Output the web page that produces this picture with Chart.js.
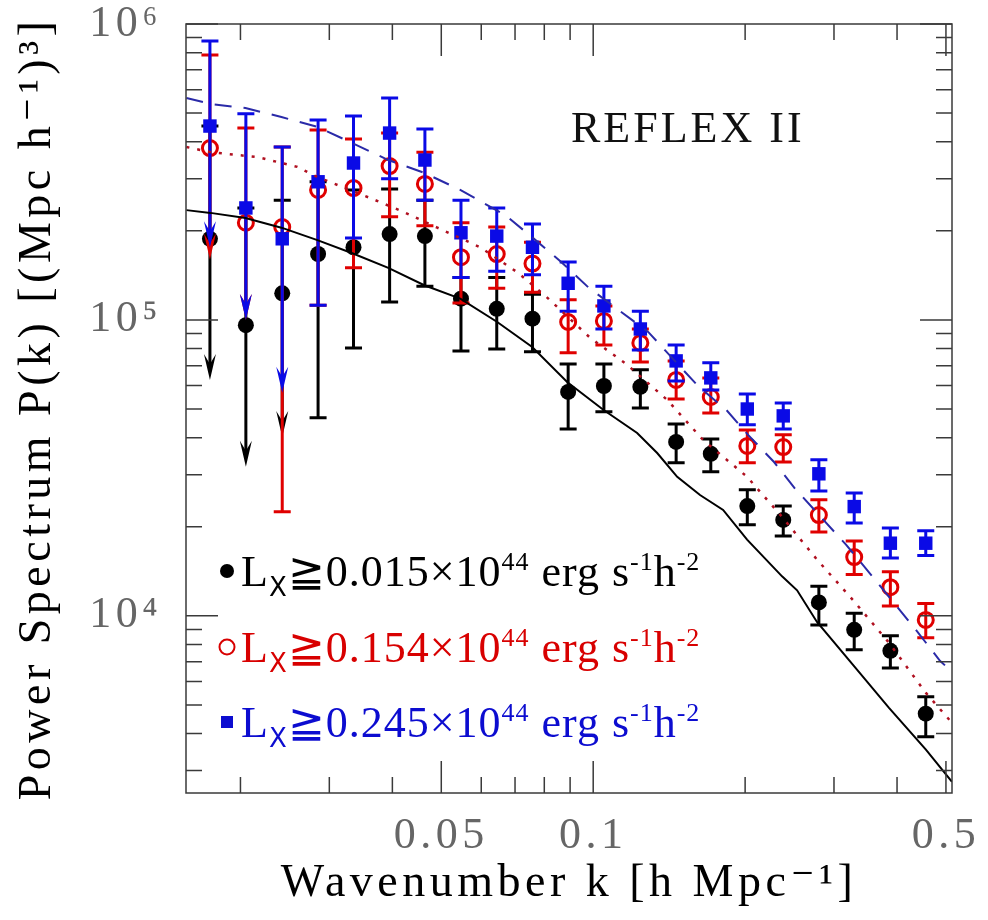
<!DOCTYPE html>
<html>
<head>
<meta charset="utf-8">
<script src="https://cdn.jsdelivr.net/npm/chart.js@4.4.1/dist/chart.umd.min.js"></script>
<style>
  html, body { margin: 0; padding: 0; background: #fff; }
  canvas { display: block; }
</style>
</head>
<body>
<canvas id="pkChart" width="988" height="920"></canvas>
<script>
// k bins (h/Mpc) shared by the three luminosity-cut samples
const kBins = [0.0174, 0.0205, 0.0242, 0.0285, 0.0335, 0.0395, 0.0464, 0.0547, 0.0644, 0.0758, 0.0892,
               0.105, 0.124, 0.146, 0.171, 0.202, 0.238, 0.280, 0.329, 0.388, 0.456];

// Lx >= 0.015e44 (black dots)
const p015   = [1.88e5, 9.6e4, 1.23e5, 1.67e5, 1.76e5, 1.95e5, 1.92e5, 1.18e5, 1.09e5, 1.01e5, 5.71e4,
                5.98e4, 5.94e4, 3.87e4, 3.53e4, 2.35e4, 2.11e4, 1.11e4, 8.97e3, 7.62e3, 4.67e3];
const p015Hi = [4.52e5, 2.39e5, 2.54e5, 2.93e5, 2.75e5, 2.77e5, 2.54e5, 1.39e5, 1.39e5, 1.22e5, 7.1e4,
                7.1e4, 6.78e4, 4.45e4, 3.96e4, 2.67e4, 2.35e4, 1.26e4, 1.02e4, 8.56e3, 5.33e3];
const p015Lo = [6.27e4, 3.19e4, 4.02e4, 4.67e4, 8.04e4, 1.15e5, 1.3e5, 7.86e4, 7.98e4, 7.8e4, 4.28e4,
                4.89e4, 5.04e4, 3.29e4, 3.07e4, 2.03e4, 1.86e4, 9.32e3, 7.68e3, 6.67e3, 3.9e3];
const lim015 = [1, 1, 1, 0, 0, 0, 0, 0, 0, 0, 0, 0, 0, 0, 0, 0, 0, 0, 0, 0, 0];

// Lx >= 0.154e44 (red open circles)
const p154   = [3.81e5, 2.13e5, 2.06e5, 2.75e5, 2.79e5, 3.31e5, 2.88e5, 1.63e5, 1.67e5, 1.55e5, 9.84e4,
                9.92e4, 8.36e4, 6.27e4, 5.49e4, 3.75e4, 3.72e4, 2.19e4, 1.58e4, 1.25e4, 9.69e3];
const p154Hi = [7.86e5, 4.45e5, 3.84e5, 4.38e5, 4.09e5, 4.28e5, 3.69e5, 2.13e5, 2.06e5, 1.83e5, 1.17e5,
                1.115e5, 9.32e4, 7.27e4, 6.37e4, 4.25e4, 4.09e4, 2.47e4, 1.79e4, 1.41e4, 1.1e4];
const p154Lo = [1.6e5, 1.0e5, 2.25e4, 1.12e5, 1.5e5, 2.23e5, 2.08e5, 1.14e5, 1.28e5, 1.24e5, 7.74e4,
                8.23e4, 7.21e4, 5.41e4, 4.85e4, 3.29e4, 3.31e4, 1.92e4, 1.38e4, 1.08e4, 8.43e3];
const lim154 = [1, 1, 0, 0, 0, 0, 0, 0, 0, 0, 0, 0, 0, 0, 0, 0, 0, 0, 0, 0, 0];

// Lx >= 0.245e44 (blue squares)
const p245   = [4.52e5, 2.39e5, 1.88e5, 2.93e5, 3.39e5, 4.28e5, 3.47e5, 1.97e5, 1.92e5, 1.76e5, 1.33e5,
                1.115e5, 9.32e4, 7.27e4, 6.37e4, 5.0e4, 4.74e4, 3.02e4, 2.34e4, 1.76e4, 1.76e4];
const p245Hi = [8.76e5, 4.97e5, 3.84e5, 4.74e5, 4.89e5, 5.62e5, 4.42e5, 2.54e5, 2.39e5, 2.11e5, 1.57e5,
                1.3e5, 1.07e5, 8.23e4, 7.16e4, 5.62e4, 5.24e4, 3.37e4, 2.6e4, 1.98e4, 1.94e4];
const p245Lo = [1.76e5, 1.0e5, 5.67e4, 1.12e5, 1.89e5, 3.0e5, 2.54e5, 1.39e5, 1.46e5, 1.42e5, 1.07e5,
                9.32e4, 7.92e4, 6.22e4, 5.8e4, 4.42e4, 4.28e4, 2.64e4, 2.06e4, 1.57e4, 1.6e4];
const lim245 = [1, 1, 1, 0, 0, 0, 0, 0, 0, 0, 0, 0, 0, 0, 0, 0, 0, 0, 0, 0, 0];

// model spectra
const kModel015 = [0.01563, 0.01744, 0.02046, 0.02411, 0.02841, 0.03332, 0.03926, 0.04627, 0.05452, 0.06454,
                   0.0757, 0.08879, 0.1047, 0.1222, 0.1339, 0.1467, 0.1628, 0.1809, 0.2018, 0.2367, 0.2535,
                   0.2776, 0.3272, 0.3856, 0.4563, 0.514];
const pModel015 = [2.35e5, 2.3e5, 2.21e5, 2.05e5, 1.86e5, 1.68e5, 1.5e5, 1.31e5, 1.18e5, 9.84e4,
                   8.1e4, 6.17e4, 4.97e4, 4.15e4, 3.55e4, 2.95e4, 2.56e4, 2.28e4, 1.81e4, 1.36e4, 1.22e4,
                   9.54e3, 6.83e3, 4.89e3, 3.53e3, 2.75e3];
const kModel154 = [0.01563, 0.01744, 0.02162, 0.02593, 0.02841, 0.03332, 0.03617, 0.04204, 0.0491, 0.05973,
                   0.07071, 0.08106, 0.09863, 0.1168, 0.1401, 0.1651, 0.2018, 0.2367, 0.2776, 0.3272,
                   0.3856, 0.4563, 0.514];
const pModel154 = [3.84e5, 3.69e5, 3.55e5, 3.29e5, 3.04e5, 2.73e5, 2.58e5, 2.32e5, 2.05e5, 1.76e5,
                   1.45e5, 1.19e5, 8.7e4, 7.05e4, 5.37e4, 3.93e4, 2.95e4, 2.16e4, 1.55e4, 1.13e4,
                   8.11e3, 5.49e3, 4.35e3];
const kModel245 = [0.01563, 0.01744, 0.02046, 0.02411, 0.02841, 0.03332, 0.03926, 0.04627, 0.05452, 0.06694,
                   0.07605, 0.08641, 0.09774, 0.1115, 0.1285, 0.1427, 0.1606, 0.1842, 0.2027, 0.2282,
                   0.2512, 0.3169, 0.3536, 0.436, 0.4865, 0.514];
const pModel245 = [5.62e5, 5.37e5, 5.2e5, 4.85e5, 4.49e5, 3.96e5, 3.47e5, 3.14e5, 2.75e5, 2.26e5,
                   1.89e5, 1.57e5, 1.29e5, 1.09e5, 9.11e4, 7.5e4, 6.03e4, 4.93e4, 4.09e4, 3.31e4,
                   2.69e4, 1.74e4, 1.39e4, 8.97e3, 7.05e3, 6.47e3];

// axes
const xMajor = [0.05, 0.1, 0.5];
const xMinor = [0.02, 0.03, 0.04, 0.06, 0.07, 0.08, 0.09, 0.2, 0.3, 0.4];
const yMajor = [1e4, 1e5, 1e6];
const yMinor = [3e3, 4e3, 5e3, 6e3, 7e3, 8e3, 9e3, 2e4, 3e4, 4e4, 5e4, 6e4, 7e4, 8e4, 9e4,
                2e5, 3e5, 4e5, 5e5, 6e5, 7e5, 8e5, 9e5];

const legendLabels = [
  { color: '#000000', cut: '0.015' },
  { color: '#d80000', cut: '0.154' },
  { color: '#0c0cd0', cut: '0.245' }
];

const SERIF = '"Liberation Serif", "DejaVu Serif", serif';
const BLACK = '#000000', RED = '#e00000', BLUE = '#0a0ae6';
const SUP = { 4: '\u2074', 5: '\u2075', 6: '\u2076' };

const toXY = (xs, ys) => xs.map((k, i) => ({ x: k, y: ys[i] }));

function drawArrow(ctx, px, tip) {
  ctx.beginPath();
  ctx.moveTo(px, tip);
  ctx.lineTo(px - 6, tip - 26);
  ctx.lineTo(px, tip - 16);
  ctx.lineTo(px + 6, tip - 26);
  ctx.closePath();
  ctx.fill();
}

const errorBars = {
  id: 'errorBars',
  beforeDatasetDraw(chart, args) {
    const ds = chart.data.datasets[args.index];
    if (!ds.errHi) return;
    const { ctx, chartArea: a, scales: { x, y } } = chart;
    ctx.save();
    ctx.beginPath();
    ctx.rect(a.left, a.top, a.right - a.left, a.bottom - a.top);
    ctx.clip();
    ctx.strokeStyle = ds.borderColor;
    ctx.fillStyle = ds.borderColor;
    ctx.lineWidth = 3;
    ds.data.forEach((p, i) => {
      const px = x.getPixelForValue(p.x);
      const hi = y.getPixelForValue(ds.errHi[i]);
      const lo = y.getPixelForValue(ds.errLo[i]);
      ctx.beginPath();
      ctx.moveTo(px, hi);
      ctx.lineTo(px, ds.limit[i] ? lo - 15 : lo);
      ctx.moveTo(px - 8.5, hi); ctx.lineTo(px + 8.5, hi);
      if (!ds.limit[i]) { ctx.moveTo(px - 8.5, lo); ctx.lineTo(px + 8.5, lo); }
      ctx.stroke();
      if (ds.limit[i]) drawArrow(ctx, px, lo);
    });
    ctx.restore();
  }
};

const frameTicks = {
  id: 'frameTicks',
  beforeLayout(chart) { chart.ctx.letterSpacing = '4.5px'; },
  beforeDraw(chart) { chart.ctx.letterSpacing = '4.5px'; },
  afterDraw(chart) {
    const { ctx, chartArea: a, scales: { x, y } } = chart;
    ctx.save();
    ctx.strokeStyle = '#3a3a3a';
    ctx.lineWidth = 1.5;
    ctx.strokeRect(a.left, a.top, a.right - a.left, a.bottom - a.top);
    ctx.beginPath();
    const xt = (v, len) => {
      const px = x.getPixelForValue(v);
      ctx.moveTo(px, a.bottom); ctx.lineTo(px, a.bottom - len);
      ctx.moveTo(px, a.top); ctx.lineTo(px, a.top + len);
    };
    const yt = (v, len) => {
      const py = y.getPixelForValue(v);
      ctx.moveTo(a.left, py); ctx.lineTo(a.left + len, py);
      ctx.moveTo(a.right, py); ctx.lineTo(a.right - len, py);
    };
    xMajor.forEach(v => xt(v, 32));
    xMinor.forEach(v => xt(v, 16));
    yMajor.forEach(v => yt(v, 32));
    yMinor.forEach(v => yt(v, 16));
    ctx.stroke();
    ctx.restore();
  }
};

function drawRuns(ctx, runs, x, y, size) {
  runs.forEach(r => {
    const small = r.sub || r.sup;
    ctx.font = `${small ? Math.round(size * 0.6) : size}px ${r.sans ? '"DejaVu Sans", sans-serif' : SERIF}`;
    const dy = r.sub ? size * 0.22 : r.sup ? -size * 0.36 : 0;
    ctx.fillText(r.t, x, y + dy);
    x += ctx.measureText(r.t).width;
  });
}

const annotations = {
  id: 'annotations',
  afterDraw(chart) {
    const { ctx, chartArea: a } = chart;
    ctx.save();
    ctx.textAlign = 'left';
    ctx.textBaseline = 'alphabetic';
    // sample name
    ctx.letterSpacing = '3px';
    ctx.fillStyle = '#111';
    ctx.font = `44px ${SERIF}`;
    ctx.fillText('REFLEX II', a.left + 385, a.top + 118);
    // legend
    ctx.letterSpacing = '1px';
    const rows = [547, 623, 698];
    legendLabels.forEach((l, i) => {
      const cy = a.top + rows[i];
      const mx = a.left + 41;
      ctx.fillStyle = l.color;
      ctx.strokeStyle = l.color;
      if (i === 0) {
        ctx.beginPath(); ctx.arc(mx, cy, 7, 0, Math.PI * 2); ctx.fill();
      } else if (i === 1) {
        ctx.lineWidth = 2; ctx.beginPath(); ctx.arc(mx, cy, 7.5, 0, Math.PI * 2); ctx.stroke();
      } else {
        ctx.fillRect(mx - 6, cy - 6, 12, 12);
      }
      drawRuns(ctx, [
        { t: 'L' }, { t: 'X', sub: true, sans: true }, { t: '\u2267' + l.cut + '\u00d710' },
        { t: '44', sup: true }, { t: ' erg s' }, { t: '-1', sup: true }, { t: 'h' }, { t: '-2', sup: true }
      ], a.left + 55, cy + 15, 44);
    });
    ctx.restore();
  }
};

new Chart(document.getElementById('pkChart'), {
  type: 'scatter',
  data: {
    datasets: [
      { label: 'model 0.245', data: toXY(kModel245, pModel245), showLine: true, pointRadius: 0,
        borderColor: '#2a2aa8', borderWidth: 2, borderDash: [17, 12] },
      { label: 'model 0.154', data: toXY(kModel154, pModel154), showLine: true, pointRadius: 0,
        borderColor: '#b01020', borderWidth: 2.5, borderDash: [3, 8] },
      { label: 'model 0.015', data: toXY(kModel015, pModel015), showLine: true, pointRadius: 0,
        borderColor: BLACK, borderWidth: 2 },
      { label: 'Lx >= 0.245', data: toXY(kBins, p245), errHi: p245Hi, errLo: p245Lo, limit: lim245,
        pointStyle: 'rect', pointRadius: 9.5, backgroundColor: BLUE, borderColor: BLUE, borderWidth: 0 },
      { label: 'Lx >= 0.154', data: toXY(kBins, p154), errHi: p154Hi, errLo: p154Lo, limit: lim154,
        pointStyle: 'circle', pointRadius: 7.5, backgroundColor: 'rgba(0,0,0,0)', borderColor: RED, borderWidth: 3 },
      { label: 'Lx >= 0.015', data: toXY(kBins, p015), errHi: p015Hi, errLo: p015Lo, limit: lim015,
        pointStyle: 'circle', pointRadius: 8, backgroundColor: BLACK, borderColor: BLACK, borderWidth: 0 }
    ]
  },
  options: {
    responsive: false,
    animation: false,
    events: [],
    layout: { padding: { top: 24, right: 36, bottom: 0, left: 0 } },
    plugins: { legend: { display: false }, tooltip: { enabled: false } },
    scales: {
      x: {
        type: 'logarithmic', min: 0.0156, max: 0.514,
        grid: { display: false, drawTicks: false }, border: { display: false },
        afterBuildTicks: s => { s.ticks = xMajor.map(v => ({ value: v })); },
        afterFit: s => { s.height = 127; s.paddingLeft = 0; s.paddingRight = 0; },
        ticks: { color: '#666', padding: 21, maxRotation: 0, autoSkip: false,
                 font: { family: SERIF, size: 44, lineHeight: 1 }, callback: v => String(v) },
        title: { display: true, text: 'Wavenumber k [h Mpc\u207b\u00b9]', color: '#000',
                 font: { family: SERIF, size: 46, lineHeight: 1.2 }, padding: { top: 0, bottom: 8 } }
      },
      y: {
        type: 'logarithmic', min: 2520, max: 1e6,
        grid: { display: false, drawTicks: false }, border: { display: false },
        afterBuildTicks: s => { s.ticks = yMajor.map(v => ({ value: v })); },
        afterFit: s => { s.width = 186; s.paddingTop = 0; s.paddingBottom = 0; },
        ticks: { color: '#666', padding: 24,
                 font: { family: SERIF, size: 44, lineHeight: 1 },
                 callback: v => '10' + SUP[Math.round(Math.log10(v))] },
        title: { display: true, text: 'Power Spectrum P(k) [(Mpc h\u207b\u00b9)\u00b3]', color: '#000',
                 font: { family: SERIF, size: 46, lineHeight: 1.2 }, padding: { top: 10, bottom: 0 } }
      }
    }
  },
  plugins: [errorBars, frameTicks, annotations]
});
</script>
</body>
</html>
